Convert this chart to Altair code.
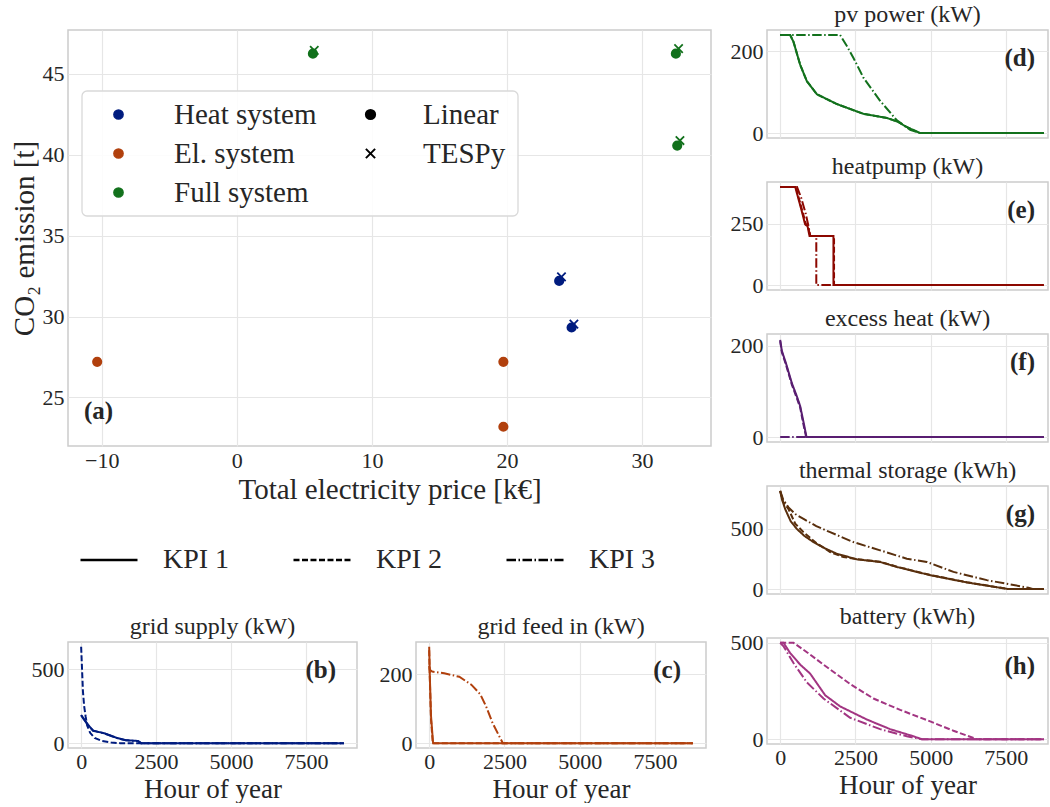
import altair as alt
import pandas as pd

FONT = "Liberation Serif"
TXT = "#262626"
GRID = "#e6e6e6"
FRAME = "#cccccc"

# ---------------- panel (a): CO2 vs price ----------------
systems = ["Heat system", "El. system", "Full system"]
system_colors = ["#001c7f", "#b1400d", "#12711c"]
models = ["Linear", "TESPy"]

linear_system = ["Heat system", "Heat system", "El. system", "El. system", "El. system",
                 "Full system", "Full system", "Full system"]
linear_price = [23.86, 24.78, -10.34, 19.73, 19.73, 5.63, 32.50, 32.60]
linear_co2 = [32.20, 29.32, 27.20, 27.20, 23.19, 46.24, 46.24, 40.56]

tespy_system = ["Heat system", "Heat system", "Full system", "Full system", "Full system"]
tespy_price = [24.03, 24.95, 5.73, 32.70, 32.80]
tespy_co2 = [32.45, 29.53, 46.44, 46.55, 40.87]

# ---------------- duration curves (hour, value) per KPI ----------------
KPI = ["KPI 1", "KPI 2", "KPI 3"]

grid_supply_h = [[0, 100, 250, 400, 800, 1200, 1500, 1900, 2000, 8760],
                 [0, 30, 60, 100, 150, 200, 300, 450, 700, 1000, 1300, 8760],
                 [0, 100, 250, 400, 800, 1200, 1500, 1900, 2000, 8760]]
grid_supply_v = [[190, 160, 120, 85, 65, 35, 20, 15, 0, 0],
                 [650, 500, 350, 250, 180, 120, 70, 35, 15, 5, 0, 0],
                 [188, 158, 118, 84, 64, 34, 19, 14, 0, 0]]

grid_feed_h = [[0, 20, 60, 130, 8760],
               [0, 20, 60, 120, 8760],
               [0, 20, 100, 500, 1000, 1400, 1700, 1900, 2100, 2300, 2450, 8760]]
grid_feed_v = [[280, 200, 80, 0, 0],
               [270, 190, 70, 0, 0],
               [225, 213, 208, 203, 193, 170, 142, 105, 60, 25, 0, 0]]

pv_h = [[0, 330, 443, 664, 886, 1219, 1883, 2768, 3545, 3900, 4200, 4650, 8760],
        [0, 330, 443, 664, 886, 1219, 1883, 2768, 3545, 3900, 4200, 4650, 8760],
        [0, 1990, 2200, 2440, 2770, 3320, 3880, 4320, 4650, 8760]]
pv_v = [[240, 240, 223, 167, 127, 95, 71, 47, 37, 28, 15, 0, 0],
        [240, 240, 223, 167, 127, 95, 71, 47, 37, 28, 15, 0, 0],
        [240, 240, 215, 183, 135, 79, 31, 8, 0, 0]]

hp_h = [[0, 500, 720, 830, 910, 975, 1770, 1770, 8760],
        [0, 520, 740, 850, 930, 990, 1790, 1790, 8760],
        [0, 560, 700, 850, 950, 1000, 1200, 1200, 8760]]
hp_v = [[400, 400, 300, 247, 240, 200, 200, 0, 0],
        [400, 400, 300, 250, 240, 200, 200, 0, 0],
        [400, 400, 355, 290, 235, 200, 200, 0, 0]]

ex_h = [[0, 55, 200, 388, 550, 664, 775, 864, 870, 8760],
        [0, 55, 200, 388, 550, 664, 760, 850, 860, 8760],
        [0, 8760]]
ex_v = [[213, 189, 160, 118, 90, 68, 33, 4, 0, 0],
        [210, 186, 157, 115, 86, 65, 32, 4, 0, 0],
        [0, 0]]

ts_h = [[0, 60, 166, 350, 554, 800, 1107, 1500, 1883, 2547, 3322, 3876, 4983, 6202, 7586, 8760],
        [0, 100, 277, 500, 775, 1200, 1661, 2100, 2547, 3322, 3876, 4983, 6202, 7586, 8760],
        [0, 100, 277, 500, 775, 1200, 1661, 2436, 3322, 4208, 4873, 5758, 6866, 8250, 8415, 8760]]
ts_v = [[811, 740, 661, 560, 497, 440, 388, 335, 292, 246, 224, 183, 115, 55, 0, 0],
        [811, 720, 661, 540, 470, 380, 306, 265, 248, 226, 185, 117, 57, 0, 0],
        [811, 740, 675, 620, 580, 520, 470, 388, 320, 251, 224, 142, 74, 11, 0, 0]]

bat_h = [[0, 110, 332, 664, 997, 1495, 1993, 2880, 3654, 4429, 4707, 8760],
         [0, 443, 900, 1439, 2326, 3100, 3987, 4873, 5758, 6534, 8760],
         [0, 120, 443, 886, 1439, 2326, 3322, 4208, 4707, 8760]]
bat_v = [[500, 500, 447, 387, 340, 228, 170, 102, 52, 15, 0, 0],
         [500, 500, 450, 387, 286, 211, 152, 99, 44, 0, 0],
         [500, 480, 395, 295, 211, 111, 52, 15, 0, 0]]

DASH = [[1, 0], [6, 2.5], [9.5, 2.5, 1.5, 2.5]]


def series_df(hours, values):
    rows = []
    for kpi, h, v in zip(KPI, hours, values):
        for i, (hh, vv) in enumerate(zip(h, v)):
            rows.append({"hour": hh, "value": vv, "kpi": kpi, "idx": i})
    return pd.DataFrame(rows)


kpi_legend = alt.Legend(
    title=None, orient="none", legendX=11, legendY=500, direction="horizontal",
    columns=3, symbolType="stroke", symbolSize=3250, symbolStrokeColor="black",
    symbolStrokeWidth=2.6, labelFont=FONT, labelFontSize=28, labelColor=TXT,
    labelOffset=24, columnPadding=58, padding=0,
)


def title_params(text, color=TXT):
    return alt.TitleParams(text, font=FONT, fontSize=24, fontWeight="normal", color=color,
                           offset=3, anchor="middle")


def panel_label(text, x, y, align):
    return alt.Chart(pd.DataFrame({"t": [text]})).mark_text(
        align=align, baseline="middle", font=FONT, fontSize=25, fontWeight="bold", color=TXT
    ).encode(x=alt.value(x), y=alt.value(y), text="t:N")


def small(hours, values, color, title, ydom, yvals, xdom, width, height, show_x, letter, label_gap):
    x_axis = alt.Axis(values=[0, 2500, 5000, 7500], labels=show_x, format="d",
                      title="Hour of year" if show_x else None, titlePadding=4,
                      titleFontSize=27, labelPadding=3)
    lines = alt.Chart(series_df(hours, values)).mark_line(strokeWidth=2, color=color).encode(
        x=alt.X("hour:Q", scale=alt.Scale(domain=xdom, nice=False, zero=False), axis=x_axis),
        y=alt.Y("value:Q", scale=alt.Scale(domain=ydom, nice=False, zero=False),
                axis=alt.Axis(values=yvals, title=None, format="d")),
        strokeDash=alt.StrokeDash("kpi:N", scale=alt.Scale(domain=KPI, range=DASH), legend=kpi_legend),
        order=alt.Order("idx:Q"),
    )
    lab = panel_label(letter, width - label_gap, 28, "right")
    return alt.layer(lines, lab).properties(width=width, height=height, title=title_params(title))


# ---------------- panel (a) ----------------
lin_df = pd.DataFrame({"system": linear_system, "price": linear_price, "co2": linear_co2, "model": "Linear"})
tes_df = pd.DataFrame({"system": tespy_system, "price": tespy_price, "co2": tespy_co2, "model": "TESPy"})
pts = pd.concat([lin_df, tes_df], ignore_index=True)

points = alt.Chart(pts).mark_point(filled=True, size=70, strokeWidth=1.8, opacity=1).encode(
    x=alt.X("price:Q", scale=alt.Scale(domain=[-12.5, 35.1], nice=False, zero=False),
            axis=alt.Axis(values=[-10, 0, 10, 20, 30], title="Total electricity price [k€]", titlePadding=4)),
    y=alt.Y("co2:Q", scale=alt.Scale(domain=[22.0, 47.7], nice=False, zero=False),
            axis=alt.Axis(values=[25, 30, 35, 40, 45], title="CO₂ emission [t]", titlePadding=3)),
    fill=alt.Fill("system:N", scale=alt.Scale(domain=systems, range=system_colors),
                  legend=alt.Legend(title=None, orient="none", legendX=36, legendY=70,
                                    symbolType="circle", symbolSize=85, labelFont=FONT,
                                    labelFontSize=29, labelColor=TXT, labelOffset=41,
                                    rowPadding=9, padding=0)),
    stroke=alt.Stroke("system:N", scale=alt.Scale(domain=systems, range=system_colors), legend=None),
    shape=alt.Shape("model:N", scale=alt.Scale(domain=models, range=["circle", "M-1,-1L1,1M-1,1L1,-1"]),
                    legend=alt.Legend(title=None, orient="none", legendX=288, legendY=70,
                                      symbolSize=85, symbolFillColor="black", symbolStrokeColor="black",
                                      symbolStrokeWidth=2, labelFont=FONT, labelFontSize=29,
                                      labelColor=TXT, labelOffset=38, rowPadding=9, padding=0)),
)

box = alt.Chart(pd.DataFrame({"k": [0]})).mark_rect(
    fill="white", fillOpacity=0.85, stroke="#d9d9d9", strokeWidth=1.3, cornerRadius=5
).encode(x=alt.value(14), x2=alt.value(450), y=alt.value(61), y2=alt.value(186))

panel_a = alt.layer(box, points, panel_label("(a)", 16, 381, "left")).properties(
    width=643, height=416, title=title_params(" ")
)

LX = [-438, 9198]
RX = [-438, 8900]

pb = small(grid_supply_h, grid_supply_v, "#001c7f", "grid supply (kW)", [-32.5, 682.5], [0, 500], LX, 289, 106, True, "(b)", 21)
pc = small(grid_feed_h, grid_feed_v, "#b1400d", "grid feed in (kW)", [-14, 294], [0, 200], LX, 290, 106, True, "(c)", 25)
pd_ = small(pv_h, pv_v, "#12711c", "pv power (kW)", [-12, 252], [0, 200], RX, 281, 108, False, "(d)", 13)
pe = small(hp_h, hp_v, "#8c0800", "heatpump (kW)", [-20, 420], [0, 250], RX, 281, 108, False, "(e)", 13)
pf = small(ex_h, ex_v, "#591e71", "excess heat (kW)", [-10.75, 225.75], [0, 200], RX, 281, 108, False, "(f)", 13)
pg = small(ts_h, ts_v, "#592f0d", "thermal storage (kWh)", [-40.5, 851.5], [0, 500], RX, 281, 108, False, "(g)", 13)
ph = small(bat_h, bat_v, "#a23582", "battery (kWh)", [-25, 525], [0, 500], RX, 281, 106, True, "(h)", 13)

left = alt.vconcat(panel_a, alt.hconcat(pb, pc, spacing=59, bounds="flush"), spacing=196, bounds="flush")
right = alt.vconcat(pd_, pe, pf, pg, ph, spacing=44, bounds="flush")

chart = alt.hconcat(left, right, spacing=17).properties(
    padding={"left": 9, "top": 2, "right": 0, "bottom": 0}
).configure_view(
    stroke=FRAME, strokeWidth=1.5
).configure_axis(
    grid=True, gridColor=GRID, gridWidth=1.2, domain=False, ticks=False, tickSize=0,
    labelFont=FONT, labelFontSize=22, labelColor=TXT, labelPadding=4,
    titleFont=FONT, titleFontSize=29, titleColor=TXT, titleFontWeight="normal",
)

chart.save("out.html", embed_options={"renderer": "svg", "actions": False})
